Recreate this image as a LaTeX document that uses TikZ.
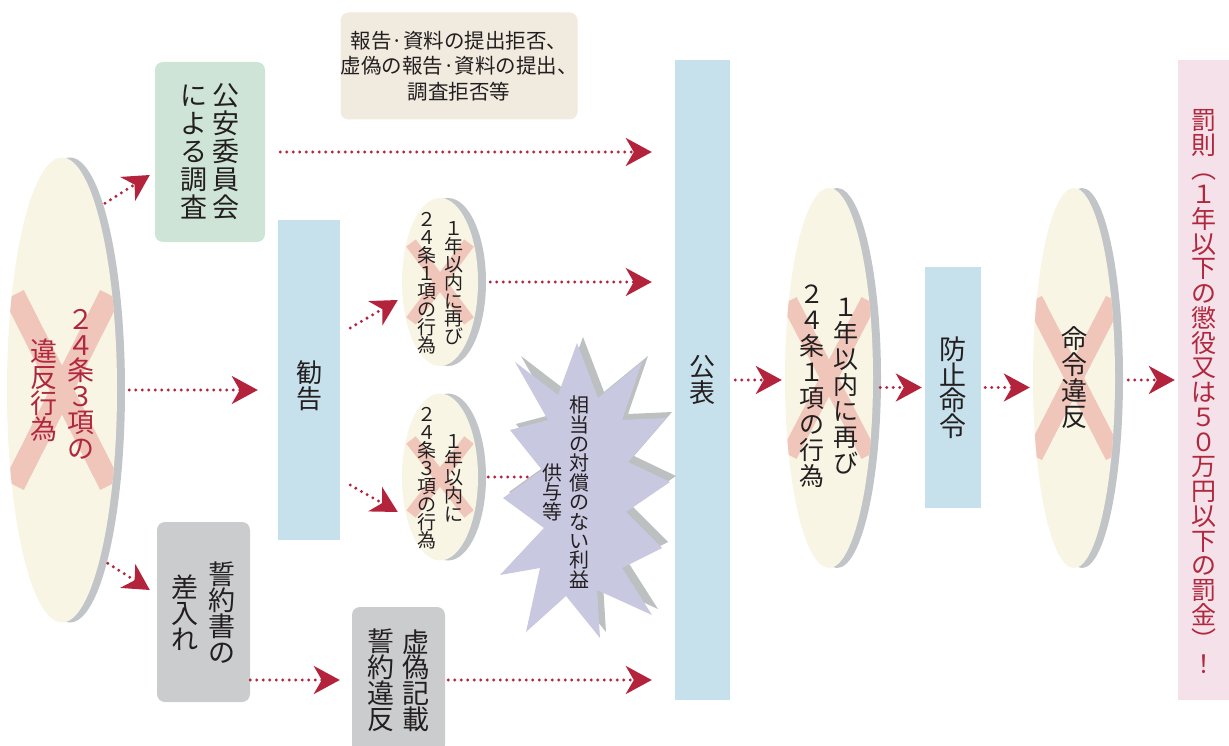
\documentclass[tikz,border=0pt]{standalone}
\usepackage{fontspec}
\setmainfont{Noto Sans CJK JP}
\usetikzlibrary{shapes.geometric,arrows.meta}
\definecolor{arrowred}{HTML}{B3243C}
\definecolor{cream}{HTML}{F8F5E5}
\definecolor{rimgray}{HTML}{C2C5C7}
\definecolor{xpink}{HTML}{F1C6BA}
\definecolor{greenbox}{HTML}{CDE4D6}
\definecolor{beigebox}{HTML}{F0EADF}
\definecolor{bluebox}{HTML}{C6E1EC}
\definecolor{graybox}{HTML}{CACCCD}
\definecolor{pinkbox}{HTML}{F4E1E9}
\definecolor{burstfill}{HTML}{C9C8E1}
\definecolor{burstshadow}{HTML}{BCC0C0}
\definecolor{redtext}{HTML}{B0283E}
\definecolor{textblack}{HTML}{231F20}
\def\vcp{1}
\makeatletter
\newcommand\vcol[2][0pt]{\ensuremath{\vcenter{\offinterlineskip\vskip#1\@tfor\vc@c:=#2\do{\hbox to 1em{\hss\vrule height .88em depth \dimexpr\vcp em-.88em\relax width 0pt\vc@c\hss}}}}}
\makeatother
\begin{document}
\begin{tikzpicture}[x=1pt,y=-1pt,
  box/.style={rectangle, inner sep=0pt, text=textblack},
  rbox/.style={box, rounded corners=8pt},
  txt/.style={inner sep=0pt, text=textblack},
  vfont/.style={font=\fontsize{#1}{#1}\selectfont},
  pitch/.code={\def\vcp{#1}},
  disc/.style={ellipse, inner sep=0pt, fill=cream, preaction={fill=rimgray, transform canvas={xshift=8pt}}},
  xmark/.style n args={3}{path picture={
    \draw[draw=xpink, line width=#3pt]
      ([shift={(-#1,-#2)}]path picture bounding box.center) -- ([shift={(#1,#2)}]path picture bounding box.center)
      ([shift={(-#1,#2)}]path picture bounding box.center) -- ([shift={(#1,-#2)}]path picture bounding box.center);}},
  dotline/.style={draw=arrowred, line width=3.3pt, dash pattern=on 0pt off 6.5pt, line cap=round},
  arr/.style={dotline, -{Stealth[length=26pt,width=28pt,inset=8pt]}}
]
\useasboundingbox (0,0) rectangle (1229,746);

% boxes
\node[rbox, fill=greenbox, minimum width=110, minimum height=180, vfont=27, pitch=1.04] (koan) at (210,152)
  {\vcol{による調査}\hspace{5pt}\vcol{公安委員会}};
\node[rbox, fill=beigebox, minimum width=236, minimum height=107, align=center, font=\fontsize{20.5}{25.5}\selectfont] (hokoku) at (459,66)
  {報告·資料の提出拒否、\\虚偽の報告·資料の提出、\\調査拒否等};
\node[box, fill=bluebox, minimum width=62, minimum height=320, vfont=26, pitch=1.0] (kankoku) at (309,380) {\vcol[12pt]{勧告}};
\node[rbox, fill=graybox, minimum width=93, minimum height=180, vfont=27, pitch=0.93] (seiyaku) at (203.5,612)
  {\vcol{差入れ}\hspace{10pt}\vcol{誓約書の}};
\node[rbox, fill=graybox, minimum width=93, minimum height=146, vfont=27, pitch=0.93] (kyogi) at (398.5,680)
  {\vcol{誓約違反}\hspace{8pt}\vcol{虚偽記載}};
\node[box, fill=bluebox, minimum width=55, minimum height=640, vfont=26, pitch=1.0] (kohyo) at (702.5,380) {\vcol{公表}};
\node[box, fill=bluebox, minimum width=56, minimum height=241, vfont=27, pitch=0.93] (boshi) at (953,387.5) {\vcol{防止命令}};
\node[box, fill=pinkbox, text=redtext, minimum width=51, minimum height=640, vfont=25, pitch=0.99] (bassoku) at (1203.5,380)
  {\vcol[24pt]{罰則︵１年以下の懲役又は５０万円以下の罰金︶！}};

% discs
\node[disc, minimum width=110, minimum height=465, xmark={48}{95}{22}] (e1) at (62,390) {};
\node[txt, text=redtext, vfont=27, pitch=0.95] (e1t) at (e1) {\vcol{違反行為}\hspace{10pt}\vcol[-14pt]{２４条３項の}};
\node[disc, minimum width=76, minimum height=168, xmark={29}{39}{12}] (e2) at (440,282) {};
\node[txt, vfont=19, pitch=0.93] (e2t) at (e2) {\vcol{２４条１項の行為}\hspace{8pt}\vcol{１年以内に再び}};
\node[disc, minimum width=76, minimum height=167, xmark={29}{37}{12}] (e3) at (440,477) {};
\node[txt, vfont=19, pitch=0.93] (e3t) at (e3) {\vcol{２４条３項の行為}\hspace{8pt}\vcol{１年以内に}};
\node[disc, minimum width=88, minimum height=380, xmark={40}{77}{17}] (e4) at (829,378) {};
\node[txt, vfont=25, pitch=1.04] (e4t) at (e4) {\vcol[14pt]{２４条１項の行為}\hspace{9pt}\vcol[14pt]{１年以内に再び}};
\node[disc, minimum width=82, minimum height=380, xmark={40}{78}{18}] (e5) at (1074,378) {};
\node[txt, vfont=26, pitch=1.0] (e5t) at (e5) {\vcol{命令違反}};

% line behind the burst
\draw[dotline, shorten <=10pt] (e3.east) -- (kohyo.west |- e3.east);

% starburst
\def\burstpath{(577,343) -- (598,398) -- (642,362) -- (622,420) -- (666,418) -- (628,462) -- (670,482) -- (626,512) -- (662,548) -- (622,568) -- (652,615) -- (597,590) -- (600,638) -- (566,596) -- (526,632) -- (540,568) -- (500,575) -- (544,528) -- (503,498) -- (542,470) -- (510,430) -- (548,420) -- (515,362) -- (558,395) -- cycle}
\fill[burstshadow, shift={(6,-6)}] \burstpath;
\fill[burstfill] \burstpath;
\node[txt, vfont=20, pitch=0.97] (burst) at (566,492) {\vcol{供与等}\hspace{7pt}\vcol{相当の対償のない利益}};

% arrows
\draw[arr] ([xshift=10pt]e1.80) -- ([shift={(-5,23)}]koan.west);
\draw[arr, shorten <=12pt, shorten >=20pt] (e1.east) -- (kankoku.west |- e1.east);
\draw[arr] ([xshift=9pt]e1.-78) -- ([shift={(-7,-22)}]seiyaku.west);
\draw[arr, shorten <=15pt, shorten >=23pt] (koan.east) -- (kohyo.west |- koan.east);
\draw[arr] ([shift={(10,-52)}]kankoku.east) -- ([shift={(-4,18)}]e2.west);
\draw[arr] ([shift={(10,105)}]kankoku.east) -- ([shift={(-4,35)}]e3.west);
\draw[arr, shorten <=12pt, shorten >=23pt] (e2.east) -- (kohyo.west |- e2.east);
\draw[arr, shorten >=12pt] (seiyaku.east |- kyogi.west) -- (kyogi.west);
\draw[arr, shorten <=3pt, shorten >=23pt] (kyogi.east) -- (kohyo.west |- kyogi.east);
\draw[arr, shorten <=5pt, shorten >=3pt] (kohyo.east) -- (e4.west |- kohyo.east);
\draw[arr, shorten <=7pt, shorten >=3pt] (e4.east |- boshi.west) -- (boshi.west);
\draw[arr, shorten <=4pt, shorten >=3pt] (boshi.east) -- (e5.west |- boshi.east);
\draw[arr, shorten <=13pt, shorten >=3pt] (e5.east |- bassoku.west) -- (bassoku.west);
\end{tikzpicture}
\end{document}
